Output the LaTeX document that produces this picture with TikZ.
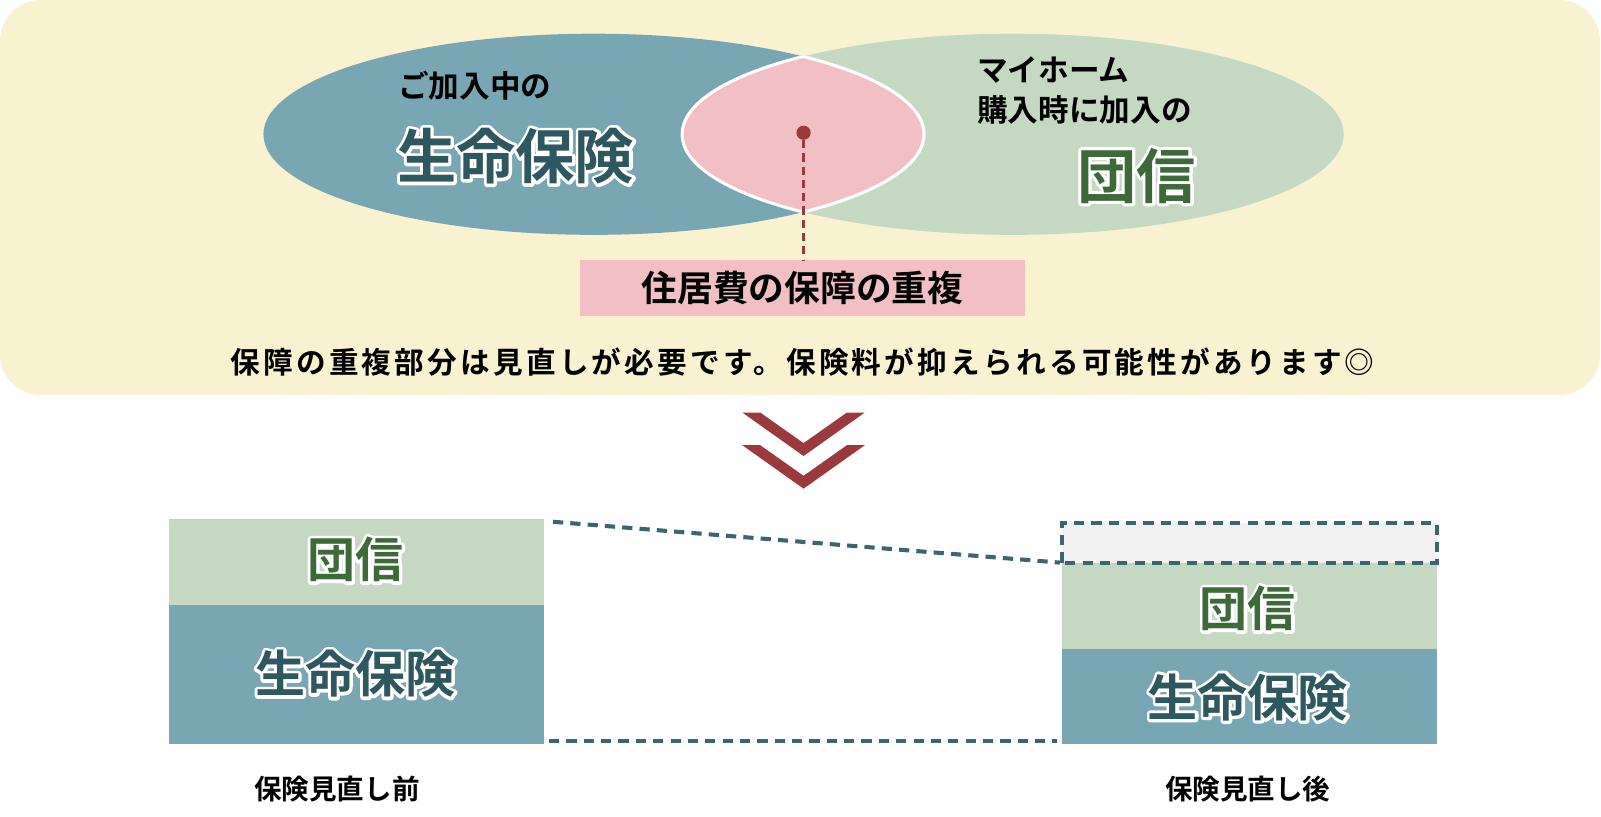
\documentclass[tikz,border=0pt]{standalone}
\usepackage{fontspec}
\setmainfont{Noto Sans CJK JP}[BoldFont={Noto Sans CJK JP Bold}]
\usetikzlibrary{calc}
\definecolor{bgY}{HTML}{F9F2D0}
\definecolor{lifeC}{HTML}{78A6B3}
\definecolor{danC}{HTML}{C5D8C2}
\definecolor{pinkC}{HTML}{F2C0C4}
\definecolor{tealT}{HTML}{2E5860}
\definecolor{greenT}{HTML}{3D6A38}
\definecolor{redC}{HTML}{9A3A3C}
\definecolor{dashC}{HTML}{3D6470}
\definecolor{ghostC}{HTML}{F0F1F0}
% outlined text: white stroke pass, then normal fill pass, in one box
\newcommand\strokedtext[1]{%
  \rlap{\special{pdf:literal direct q 1 Tr 6 w 1 j 1 1 1 RG}#1\special{pdf:literal direct 0 Tr Q}}#1}
\tikzset{
  plain/.style={font=\bfseries\fontsize{#1}{#1}\selectfont, text=black, inner sep=0pt},
  big/.style={font=\bfseries\fontsize{#1}{#1}\selectfont, inner sep=0pt},
  dashline/.style={draw=dashC, line width=4pt, dash pattern=on 10pt off 7pt},
}
\begin{document}
\begin{tikzpicture}[x=1pt,y=-1pt]
\useasboundingbox (0,0) rectangle (1568,799.2);
\fill[white] (0,0) rectangle (1568,799.2);
% background panel
\fill[bgY, rounded corners=40pt] (0,0) rectangle (1567,387);
% ellipses
\fill[lifeC] (581.5,131.5) ellipse [x radius=323.5pt, y radius=98.5pt];
\fill[danC] (992,131.5) ellipse [x radius=324pt, y radius=98.5pt];
\begin{scope}
  \clip (581.5,131.5) ellipse [x radius=323.5pt, y radius=98.5pt];
  \fill[pinkC] (992,131.5) ellipse [x radius=324pt, y radius=98.5pt];
  \draw[white, line width=3pt] (992,131.5) ellipse [x radius=324pt, y radius=98.5pt];
\end{scope}
\begin{scope}
  \clip (992,131.5) ellipse [x radius=324pt, y radius=98.5pt];
  \draw[white, line width=3pt] (581.5,131.5) ellipse [x radius=323.5pt, y radius=98.5pt];
\end{scope}
% left ellipse texts
\node[plain=30] (joined) at (465,84) {ご加入中の};
\node[big=58, text=tealT] (lifeTop) at (505,153) {\strokedtext{生命保険}};
% right ellipse texts
\node[plain=30, anchor=west] (myhome) at (957,69) {マイホーム};
\node[plain=30, anchor=west] (bought) at (957,108) {購入時に加入の};
\node[big=58, text=greenT] (danTop) at (1113,172) {\strokedtext{団信}};
% overlap marker
\node[circle, fill=redC, minimum size=14pt, inner sep=0pt] (dot) at (787,130) {};
\node[fill=pinkC, minimum width=435pt, minimum height=54pt, inner sep=0pt, font=\bfseries\fontsize{35}{35}\selectfont] (dup) at (786,282) {住居費の保障の重複};
\draw[redC, line width=3pt, dash pattern=on 8pt off 5pt] (dot.south) -- (dot.south |- dup.north);
% note
\node[font=\bfseries\fontsize{29}{29}\addfontfeatures{LetterSpace=11}\selectfont, inner sep=0pt] (note) at (786,355) {保障の重複部分は見直しが必要です。保険料が抑えられる可能性があります◎};
% chevrons
\fill[redC] (727,404) -- (744.5,404) -- (787,434) -- (829.5,404) -- (847,404) -- (787,446.6) -- cycle;
\fill[redC] (727,436) -- (744.5,436) -- (787,466) -- (829.5,436) -- (847,436) -- (787,478.6) -- cycle;
% before stack
\fill[danC] (165.3,508.5) rectangle (532.8,592.6);
\fill[lifeC] (165.3,592.6) rectangle (532.8,728.7);
\node[big=47, text=greenT] (danB) at (348,548) {\strokedtext{団信}};
\node[big=49, text=tealT] (lifeB) at (348,660) {\strokedtext{生命保険}};
\node[plain=27] (before) at (330,773) {保険見直し前};
% after stack
\fill[ghostC] (1039.8,512) rectangle (1407,551);
\fill[danC] (1039.8,551) rectangle (1407.5,635.6);
\fill[lifeC] (1039.8,635.6) rectangle (1407.5,728.7);
\draw[dashline] (1039.8,551) rectangle (1407,512);
\node[big=47, text=greenT] (danA) at (1222,596) {\strokedtext{団信}};
\node[big=49, text=tealT] (lifeA) at (1222,683) {\strokedtext{生命保険}};
\node[plain=27] (after) at (1222,773) {保険見直し後};
% connectors
\coordinate (t1) at (541.6,511);
\coordinate (t2) at (1038,551);
\coordinate (b1) at (537.7,725.4);
\coordinate (b2) at (1035,725.4);
\draw[dashline] (t1) -- (t2);
\draw[dashline] (b1) -- (b2);
\end{tikzpicture}
\end{document}
